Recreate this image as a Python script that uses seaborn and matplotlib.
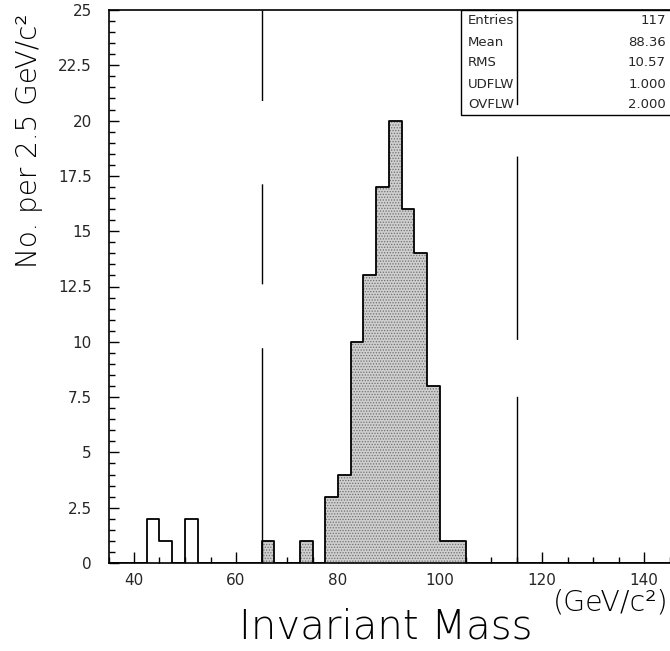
import numpy as np
import pandas as pd
import matplotlib
matplotlib.use("Agg")
import matplotlib.pyplot as plt
from matplotlib.ticker import MultipleLocator, FuncFormatter
from matplotlib.patches import Rectangle
import seaborn as sns

# ---- data ----
bin_width = 2.5
bin_low_edges = [42.5, 45.0, 50.0, 65.0, 72.5, 77.5, 80.0, 82.5, 85.0, 87.5,
                 90.0, 92.5, 95.0, 97.5, 100.0, 102.5]
bin_counts = [2, 1, 2, 1, 1, 3, 4, 10, 13, 17, 20, 16, 14, 8, 1, 1]
mass_cuts = [65.0, 115.0]
x_range = [35.0, 150.0]
y_range = [0.0, 25.0]
stat_names = ["Entries", "Mean", "RMS", "UDFLW", "OVFLW"]
stat_values = ["117", "88.36", "10.57", "1.000", "2.000"]

df = pd.DataFrame({"mass": np.array(bin_low_edges) + bin_width / 2,
                   "count": bin_counts})
df_in = df[(df["mass"] > mass_cuts[0]) & (df["mass"] < mass_cuts[1])]

sns.set_style("white")
plt.rcParams["font.family"] = ["DejaVu Sans"]
plt.rcParams["hatch.linewidth"] = 0.6

W, H = 670, 651
fig = plt.figure(figsize=(W / 100, H / 100), dpi=100)
px_per_unit = 5.1
ax_left_px = 134 - (40 - x_range[0]) * px_per_unit
ax_w_px = (x_range[1] - x_range[0]) * px_per_unit
ax_top_px, ax_bot_px = 10, 563
ax = fig.add_axes([ax_left_px / W, (H - ax_bot_px) / H,
                   ax_w_px / W, (ax_bot_px - ax_top_px) / H])

# filled part (inside the mass window)
sns.histplot(data=df_in, x="mass", weights="count", binwidth=bin_width,
             binrange=tuple(x_range),
             element="step", fill=True, color="#cfcfcf", alpha=1,
             linewidth=0, hatch="......", edgecolor="#707070", ax=ax)
# outline of full histogram
sns.histplot(data=df, x="mass", weights="count", binwidth=bin_width,
             binrange=tuple(x_range),
             element="step", fill=False, color="black", linewidth=1.3, ax=ax)

# cut lines (irregular long dashes)
dash_styles = [(0, (155, 46, 72, 60, 65, 100)),
               (0, (120, 41, 132, 37, 80, 100))]
for c, ds in zip(mass_cuts, dash_styles):
    ax.axvline(c, color="black", linewidth=1.0, linestyle=ds, zorder=5)

ax.set_xlim(*x_range)
ax.set_ylim(*y_range)

for s in ["left", "bottom", "top"]:
    ax.spines[s].set_visible(True)
    ax.spines[s].set_color("black")
    ax.spines[s].set_linewidth(1.2)
ax.spines["right"].set_visible(False)

ax.xaxis.set_major_locator(MultipleLocator(20))
ax.xaxis.set_minor_locator(MultipleLocator(5))
ax.yaxis.set_major_locator(MultipleLocator(2.5))
ax.yaxis.set_minor_locator(MultipleLocator(0.5))
ax.yaxis.set_major_formatter(FuncFormatter(lambda v, p: f"{v:g}"))
ax.tick_params(axis="both", which="both", direction="in", color="black",
               bottom=True, left=True, top=False, right=False)
ax.tick_params(axis="x", which="major", length=8, width=1, pad=7, labelsize=11)
ax.tick_params(axis="x", which="minor", length=4, width=1)
ax.tick_params(axis="y", which="major", length=7, width=1, pad=12, labelsize=11)
ax.tick_params(axis="y", which="minor", length=4, width=1)
ax.set_xlabel("")
ax.set_ylabel("")

# stats box
bx0 = (461 - ax_left_px) / ax_w_px
by0 = (ax_bot_px - 115) / (ax_bot_px - ax_top_px)
ax.add_patch(Rectangle((bx0, by0), 1.2, 1 - by0, transform=ax.transAxes,
                       facecolor="white", edgecolor="black", linewidth=1.0,
                       zorder=4, clip_on=False))
for i, (n, v) in enumerate(zip(stat_names, stat_values)):
    ypx = 21 + i * 21
    fig.text(468 / W, 1 - ypx / H, n, ha="left", va="center", fontsize=9.5,
             zorder=6)
    fig.text(666 / W, 1 - ypx / H, v, ha="right", va="center", fontsize=9.5,
             zorder=6)

# axis titles
fig.text(29 / W, 1 - 14 / H, "No. per 2.5 GeV/c²", rotation=90, ha="center",
         va="top", fontsize=20, fontweight=200, color="black")
fig.text(386 / W, 1 - 627 / H, "Invariant Mass", ha="center", va="center",
         fontsize=29, fontweight=200, color="black")
fig.text(668 / W, 1 - 602 / H, "(GeV/c²)", ha="right", va="center",
         fontsize=20.5, fontweight=200, color="black")

fig.savefig("out.png", dpi=100)
